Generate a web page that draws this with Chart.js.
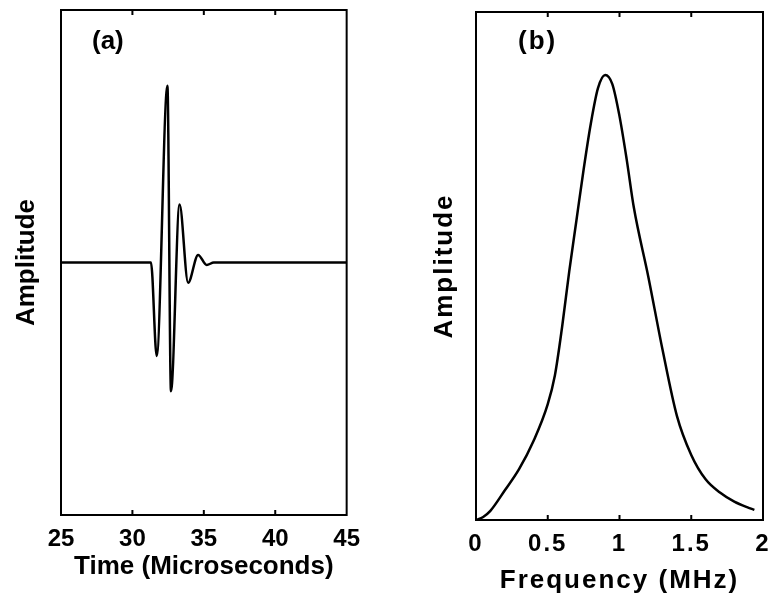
<!DOCTYPE html>
<html>
<head>
<meta charset="utf-8">
<script src="https://cdn.jsdelivr.net/npm/chart.js@4.4.1/dist/chart.umd.min.js"></script>
<style>
  html, body { margin: 0; padding: 0; background: #fff; overflow: hidden; width: 768px; height: 597px; position: relative; }
  canvas { position: absolute; top: 0; }
  #pulseChart { left: 0; }
  #spectrumChart { left: 380px; }
</style>
</head>
<body>
<canvas id="pulseChart" width="370" height="597"></canvas>
<canvas id="spectrumChart" width="420" height="597"></canvas>
<script>
// (a) time-domain pulse
const timeUs   = [25, 31.3, 31.7, 32.45, 32.7, 33.3, 33.9, 34.6, 35.2, 35.7, 45];
const pulseAmp = [0,  0,   -0.37, 0.70, -0.51, 0.23, -0.08, 0.03, -0.01, 0,   0];
const timeTicks = { min: 25, max: 45, step: 5 };

// (b) amplitude spectrum
const freqMHz = [0, 0.05, 0.1, 0.2, 0.3, 0.4, 0.5, 0.55, 0.6, 0.65, 0.7, 0.75, 0.8, 0.85, 0.9,
                 0.95, 1.0, 1.05, 1.1, 1.2, 1.3, 1.4, 1.5, 1.6, 1.7, 1.8, 1.9, 1.94];
const spectrumAmp = [0, 0.006, 0.018, 0.058, 0.10, 0.155, 0.228, 0.285, 0.38, 0.49, 0.59, 0.69, 0.78, 0.85, 0.876,
                     0.858, 0.795, 0.71, 0.615, 0.48, 0.335, 0.205, 0.128, 0.08, 0.054, 0.036, 0.024, 0.02];
const freqTicks = { min: 0, max: 2, step: 0.5 };

const FONT = "'Liberation Sans', Arial, Helvetica, sans-serif";

// box around the plot, inward tick marks top and bottom, panel tag
const framePlugin = {
  id: 'frame',
  beforeLayout(chart, args, opts) { chart.ctx.letterSpacing = opts.spacing + 'px'; },
  beforeDraw(chart, args, opts) { chart.ctx.letterSpacing = opts.spacing + 'px'; },
  afterDraw(chart, args, opts) {
    const { ctx, chartArea: a, scales: { x } } = chart;
    ctx.save();
    ctx.strokeStyle = '#000';
    ctx.lineWidth = 2;
    ctx.strokeRect(a.left, a.top, a.right - a.left, a.bottom - a.top);
    ctx.beginPath();
    x.ticks.slice(1, -1).forEach(t => {
      const px = x.getPixelForValue(t.value);
      ctx.moveTo(px, a.bottom); ctx.lineTo(px, a.bottom - 5);
      ctx.moveTo(px, a.top); ctx.lineTo(px, a.top + 5);
    });
    ctx.stroke();
    ctx.fillStyle = '#000';
    ctx.font = 'bold 26px ' + FONT;
    ctx.textBaseline = 'middle';
    ctx.textAlign = 'left';
    ctx.fillText(opts.label, a.left + opts.dx, a.top + opts.dy);
    ctx.restore();
  }
};

function makeChart(id, xs, ys, t, cfg) {
  const points = xs.map((x, i) => ({ x: x, y: ys[i] }));
  return new Chart(document.getElementById(id), {
    type: 'line',
    data: {
      datasets: [{
        data: points,
        borderColor: '#000',
        borderWidth: 2.5,
        pointRadius: 0,
        fill: false,
        cubicInterpolationMode: 'monotone'
      }]
    },
    options: {
      responsive: false,
      animation: false,
      layout: { padding: cfg.padding },
      plugins: {
        legend: { display: false },
        tooltip: { enabled: false },
        frame: { label: cfg.label, dx: cfg.labelDx, dy: cfg.labelDy, spacing: cfg.spacing }
      },
      scales: {
        x: {
          type: 'linear',
          min: t.min,
          max: t.max,
          ticks: {
            stepSize: t.step, color: '#000', font: { family: FONT, size: 24, weight: 'bold' },
            padding: 10, maxRotation: 0, autoSkip: false,
            callback: v => String(v)
          },
          grid: { display: false, drawTicks: false },
          border: { display: false },
          title: { display: true, text: cfg.xTitle, color: '#000', font: { family: FONT, size: 26, weight: 'bold' }, padding: 0 },
          afterFit: s => { s.height = cfg.xHeight; }
        },
        y: {
          min: cfg.yMin,
          max: cfg.yMax,
          ticks: { display: false },
          grid: { display: false, drawTicks: false },
          border: { display: false },
          title: { display: true, text: 'Amplitude', color: '#000', font: { family: FONT, size: 26, weight: 'bold' }, padding: 0 },
          afterFit: s => { s.width = cfg.yWidth; }
        }
      }
    },
    plugins: [framePlugin]
  });
}

makeChart('pulseChart', timeUs, pulseAmp, timeTicks, {
  xTitle: 'Time (Microseconds)', label: '(a)', labelDx: 31, labelDy: 32, spacing: 0,
  yMin: -1, yMax: 1,
  padding: { left: 11, right: 19, top: 10, bottom: 15 },
  yWidth: 50, xHeight: 67
});

makeChart('spectrumChart', freqMHz, spectrumAmp, freqTicks, {
  xTitle: 'Frequency (MHz)', label: '(b)', labelDx: 42, labelDy: 30, spacing: 2,
  yMin: 0, yMax: 1,
  padding: { left: 49, right: 37, top: 12, bottom: 1 },
  yWidth: 47, xHeight: 76
});
</script>
</body>
</html>
